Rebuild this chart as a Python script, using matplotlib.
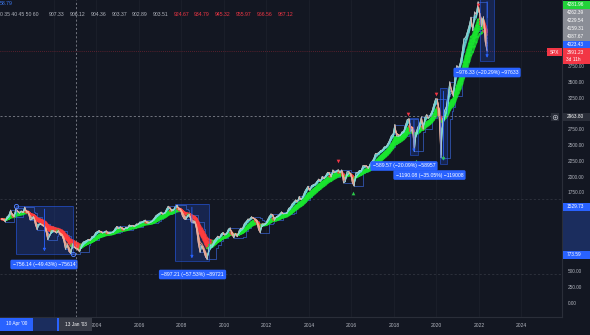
import matplotlib
matplotlib.use("Agg")
import matplotlib.pyplot as plt
import numpy as np
import pandas as pd
from matplotlib.collections import LineCollection
from matplotlib.patches import Rectangle

plt.rcParams["font.family"] = ["Liberation Sans", "DejaVu Sans"]

BG = "#131722"
BLUE = "#2962ff"
GRAY_TXT = "#b2b5be"

# SPX monthly values, Jul 1999 .. May 2022
spx = [
    1328, 1320, 1283, 1363, 1389, 1469,                                      # 1999 H2
    1394, 1366, 1499, 1452, 1421, 1455, 1431, 1518, 1437, 1429, 1315, 1320,  # 2000
    1366, 1240, 1160, 1249, 1256, 1224, 1211, 1134, 1000, 1060, 1139, 1148,  # 2001
    1130, 1107, 1147, 1077, 1067, 990, 850, 916, 815, 780, 936, 880,         # 2002
    856, 841, 810, 917, 964, 975, 990, 1008, 996, 1051, 1058, 1112,          # 2003
    1131, 1145, 1126, 1107, 1121, 1141, 1102, 1104, 1115, 1130, 1174, 1212,  # 2004
    1181, 1204, 1181, 1157, 1192, 1191, 1234, 1220, 1229, 1207, 1249, 1248,  # 2005
    1280, 1281, 1295, 1311, 1270, 1270, 1277, 1304, 1336, 1378, 1401, 1418,  # 2006
    1438, 1407, 1421, 1482, 1531, 1503, 1455, 1474, 1527, 1549, 1481, 1468,  # 2007
    1379, 1331, 1323, 1386, 1400, 1280, 1267, 1283, 1165, 940, 800, 903,     # 2008
    826, 735, 690, 873, 919, 919, 987, 1021, 1057, 1036, 1096, 1115,         # 2009
    1074, 1104, 1169, 1187, 1089, 1031, 1102, 1049, 1141, 1183, 1181, 1258,  # 2010
    1286, 1327, 1326, 1364, 1345, 1321, 1292, 1160, 1110, 1253, 1247, 1258,  # 2011
    1312, 1366, 1408, 1398, 1310, 1362, 1379, 1407, 1441, 1412, 1416, 1426,  # 2012
    1498, 1515, 1569, 1598, 1631, 1606, 1686, 1633, 1682, 1757, 1806, 1848,  # 2013
    1783, 1859, 1872, 1884, 1924, 1960, 1931, 2003, 1972, 2018, 2068, 2059,  # 2014
    1995, 2105, 2068, 2086, 2107, 2063, 2104, 1900, 1920, 2079, 2080, 2044,  # 2015
    1900, 1850, 2060, 2065, 2097, 2099, 2174, 2171, 2168, 2126, 2199, 2239,  # 2016
    2279, 2364, 2363, 2384, 2412, 2423, 2470, 2472, 2519, 2575, 2648, 2674,  # 2017
    2824, 2640, 2641, 2648, 2705, 2718, 2816, 2902, 2914, 2712, 2760, 2400,  # 2018
    2704, 2784, 2834, 2946, 2752, 2942, 2980, 2926, 2977, 3038, 3141, 3231,  # 2019
    3226, 2954, 2300, 2912, 3044, 3100, 3271, 3500, 3363, 3270, 3622, 3756,  # 2020
    3714, 3811, 3973, 4181, 4204, 4298, 4395, 4523, 4308, 4605, 4567, 4766,  # 2021
    4516, 4374, 4530, 4132, 3991,                                            # 2022
]

# Guppy lengths (weeks)
gmma_short = [3, 5, 8, 10, 12, 15]
gmma_long = [30, 35, 40, 45, 50, 60]

# measured drawdowns: start, end (year), top, bottom, label, label pos
dd_start = [2000.21, 2007.69, 2018.75, 2020.16, 2022.05]
dd_end = [2002.89, 2009.29, 2019.13, 2020.49, 2022.71]
dd_top = [1529.73, 1559.5, 2934.6, 3395.5, 4811.9]
dd_bottom = [773.59, 662.3, 2345.0, 2205.4, 3835.6]
dd_label = ["\u2212756.14 (\u221249.43%) \u221275614",
            "\u2212897.21 (\u221257.53%) \u221289721",
            "\u2212589.57 (\u221220.09%) \u221258957",
            "\u22121190.08 (\u221235.05%) \u2212119008",
            "\u2212976.33 (\u221220.29%) \u221297633"]
dd_label_x = [2001.53, 2008.52, 2018.47, 2019.67, 2022.38]
dd_label_y = [609, 451, 2168, 2025, 3647]

# pivot markers
top_x = [2015.36, 2018.66, 2019.98, 2021.95]
top_y = [2247, 2990, 3307, 4715]
bot_x = [2016.07, 2019.04, 2020.31]
bot_y = [1740, 2247, 2310]

years = list(range(2002, 2026, 2))
# levels hidden behind the scale tags are left out
price_ticks = [0, 250, 500, 1000, 1250, 1750, 2000, 2250, 2500, 2750, 3250, 3500, 3750]

legend_head = "0 35 40 45 50 60"
legend_gray = ["907.33", "906.12", "904.36", "903.37", "902.89", "903.51"]
legend_red = ["924.67", "934.79", "945.32", "955.97", "966.56", "987.12"]

stack_tags = ["4281.96", "4262.39", "4229.54", "4159.31", "4087.67", "4023.43"]
stack_colors = ["#22d33a", "#8a8d96", "#8a8d96", "#8a8d96", "#8a8d96", BLUE]
last_price = 3991.23
cross_price = 2963.80

per = pd.period_range("1999-07", periods=len(spx), freq="M")
t = per.year + (per.month - 0.5) / 12.0
s = pd.Series(spx, dtype=float)

fig = plt.figure(figsize=(5.9, 3.35), dpi=100)
fig.patch.set_facecolor(BG)
ax = fig.add_axes([0, 18 / 335, 562 / 590, 317 / 335])
ax.set_facecolor(BG)
ax.set_xlim(1999.46, 2025.906)
ax.set_ylim(-221.5, 4794.3)

for y in years:
    ax.axvline(y, color="#1c202b", lw=0.6, zorder=0)
for p in [459, 1646]:
    ax.axhline(p, color="#363a45", lw=0.5, ls=(0, (3, 3)), zorder=0)
ax.axhline(last_price, color="#f23645", lw=0.5, ls=(0, (1, 2)), alpha=0.6, zorder=1)


def ribbon(vals, up, down, lw, alpha, z):
    pts = np.column_stack([t, vals])
    segs = np.stack([pts[:-1], pts[1:]], axis=1)
    cols = [up if d >= 0 else down for d in np.diff(vals)]
    ax.add_collection(LineCollection(segs, colors=cols, linewidths=lw, alpha=alpha,
                                     zorder=z, capstyle="round"))


# channel around price
hi = s.rolling(5, min_periods=1).max()
lo = s.rolling(5, min_periods=1).min()
ax.plot(t, hi, drawstyle="steps-post", color="#3a66d6", lw=0.55, alpha=0.85, zorder=2)
ax.plot(t, lo, drawstyle="steps-post", color="#3a66d6", lw=0.55, alpha=0.85, zorder=2)

for L in gmma_long[::-1]:
    e = s.ewm(span=max(L / 4.33, 1), adjust=False).mean().values
    ribbon(e, "#19e62e", "#ff3d3d", 1.6, 0.8, 3)
for L in gmma_short[::-1]:
    e = s.ewm(span=max(L / 4.33, 1), adjust=False).mean().values
    ribbon(e, "#6fe6e0", "#ffab8a", 0.6, 0.8, 4)
ax.plot(t, s, color="#c9b8bd", lw=0.5, alpha=0.85, zorder=5)

# drawdown boxes
for x0, x1, top, bot in zip(dd_start, dd_end, dd_top, dd_bottom):
    ax.add_patch(Rectangle((x0, bot), x1 - x0, top - bot, fc=BLUE, alpha=0.2, ec="none", zorder=1))
    ax.add_patch(Rectangle((x0, bot), x1 - x0, top - bot, fc="none", ec=BLUE, lw=0.5, alpha=0.7, zorder=6))
    xm = (x0 + x1) / 2
    ax.annotate("", xy=(xm, bot), xytext=(xm, top),
                arrowprops=dict(arrowstyle="-|>", color=BLUE, lw=0.6, mutation_scale=4), zorder=6)
for lx, ly, lab in zip(dd_label_x, dd_label_y, dd_label):
    ax.text(lx, ly, lab, fontsize=3.7, color="white", ha="center", va="center", zorder=8,
            bbox=dict(boxstyle="round,pad=0.45,rounding_size=0.3", fc=BLUE, ec="none"))
ax.plot([dd_start[0], dd_end[0]], [dd_top[0], dd_bottom[0]], "o", ms=3, mfc="none",
        mec="#4d7cf6", mew=0.7, zorder=7)

ax.scatter(top_x, top_y, marker="v", s=7, color="#f23645", zorder=7, lw=0)
ax.scatter(bot_x, bot_y, marker="^", s=7, color="#2cc94a", zorder=7, lw=0)

# crosshair
ax.axvline(2003.03, color="#9598a1", lw=0.5, ls=(0, (3, 3)), zorder=9)
ax.plot([1999.46, 2025.55], [cross_price, cross_price], color="#9598a1", lw=0.5,
        ls=(0, (3, 3)), zorder=9)

# axes styling
for side in ["top", "left"]:
    ax.spines[side].set_visible(False)
for side in ["right", "bottom"]:
    ax.spines[side].set_color("#2a2e39")
    ax.spines[side].set_linewidth(0.8)
ax.yaxis.tick_right()
ax.set_yticks(price_ticks)
ax.set_yticklabels([f"{v:.2f}" for v in price_ticks])
ax.tick_params(axis="y", length=0, pad=4, labelsize=3.4, labelcolor=GRAY_TXT)
ax.set_xticks(years)
ax.set_xticklabels([str(y) for y in years])
ax.tick_params(axis="x", length=0, pad=4, labelsize=3.6, labelcolor=GRAY_TXT)

# overlay in pixel coordinates for tags and legend
ov = fig.add_axes([0, 0, 1, 1])
ov.set_xlim(0, 590)
ov.set_ylim(335, 0)
ov.axis("off")
ov.patch.set_visible(False)


def tag(x0, x1, yc, h, text, fc, tc="white", ha="left", fs=3.4):
    ov.add_patch(Rectangle((x0, yc - h / 2), x1 - x0, h, fc=fc, ec="none"))
    if text:
        tx = x0 + 4 if ha == "left" else (x0 + x1) / 2
        ov.text(tx, yc, text, fontsize=fs, color=tc, ha=ha, va="center")


# price scale tags
for i, (txt, c) in enumerate(zip(stack_tags, stack_colors)):
    tag(562.5, 590, 4.5 + 8 * i, 8, txt, c)
ov.add_patch(Rectangle((562.5, 48), 27.5, 16, fc="#f23645", ec="none"))
ov.text(566.5, 52, f"{last_price:.2f}", fontsize=3.4, color="white", ha="left", va="center")
ov.text(566.5, 59.5, "3d 11h", fontsize=3.4, color="white", ha="left", va="center")
tag(547, 562, 52, 8, "SPX", "#f23645", ha="center")
tag(562.5, 590, 117, 8, f"{cross_price:.2f}", "#2a2e39")
ov.add_patch(Rectangle((551, 113), 8, 8, fc="#2a2e39", ec="none"))
ov.plot([555], [117], "o", ms=3.2, mfc="none", mec="#b2b5be", mew=0.5)
ov.plot([555], [117], "+", ms=2, mec="#b2b5be", mew=0.5)
ov.add_patch(Rectangle((562.5, 207), 27.5, 48, fc="#1b2d5e", ec="none"))
tag(562.5, 590, 207, 8, f"{dd_top[0]:.2f}", BLUE)
tag(562.5, 590, 255, 8, f"{dd_bottom[0]:.2f}", BLUE)

# time scale tags
ov.add_patch(Rectangle((33, 318), 25, 12.5, fc="#1b2d5e", ec="none"))
ov.add_patch(Rectangle((0, 318), 33, 12.5, fc=BLUE, ec="none"))
ov.text(16.5, 324, "10 Apr '00", fontsize=3.4, color="white", ha="center", va="center")
ov.add_patch(Rectangle((57, 318), 2, 12.5, fc=BLUE, ec="none"))
ov.add_patch(Rectangle((59, 318), 33, 12.5, fc="#363a45", ec="none"))
ov.text(75.5, 324, "13 Jan '03", fontsize=3.4, color="white", ha="center", va="center")

# legend row
ov.text(0, 3.5, "58.79", fontsize=3.7, color="#3d7bf5", ha="left", va="center")
ov.text(0, 15, legend_head, fontsize=3.7, color=GRAY_TXT, ha="left", va="center")
for i, v in enumerate(legend_gray + legend_red):
    ov.text(49 + 20.75 * i, 15, v, fontsize=3.7, color=GRAY_TXT if i < 6 else "#f23645",
            ha="left", va="center")

fig.savefig("out.png", dpi=100, facecolor=BG)
